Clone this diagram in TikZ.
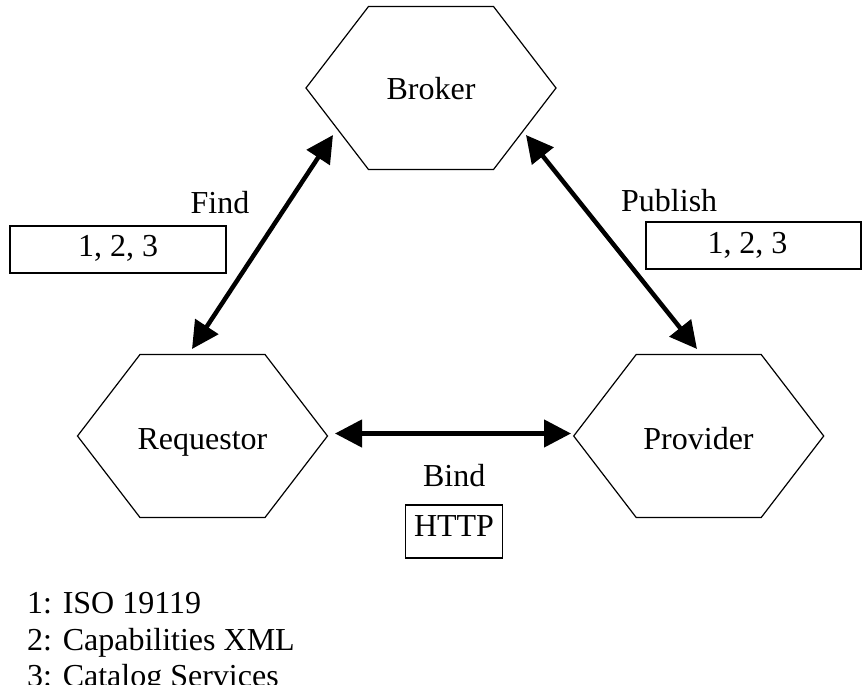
\documentclass[tikz,border=0pt]{standalone}
\usepackage{fontspec}
\setmainfont{Liberation Serif}
\usetikzlibrary{arrows.meta}

\tikzset{
  hexside/.style={draw=black, line width=1.2pt, line join=miter},
  pics/hexagon/.style={code={
    \draw[hexside] (-125,0) -- (-62.5,-81.5) -- (62.5,-81.5) -- (125,0)
                   -- (62.5,81.5) -- (-62.5,81.5) -- cycle;}},
  txt/.style={font=\fontsize{32}{36}\selectfont, inner sep=0pt},
  lbl/.style={txt, anchor=base},
  refbox/.style={txt, draw=black, line width=1.5pt},
  link/.style={line width=4.5pt,
    {Triangle[length=27pt,width=27pt]}-{Triangle[length=27pt,width=27pt]}}
}

\begin{document}
\begin{tikzpicture}[x=1pt, y=-1pt]
  \useasboundingbox (0,0) rectangle (867,698);
  \fill[white] (0,0) rectangle (867,698);

  % the three roles
  \coordinate (brokerc) at (431,88);
  \coordinate (reqc)    at (202.5,436);
  \coordinate (provc)   at (698.7,436);
  \pic at (brokerc) {hexagon};
  \pic at (reqc)    {hexagon};
  \pic at (provc)   {hexagon};
  \node[lbl] (broker) at (431,100)    {Broker};
  \node[lbl] (req)    at (202.5,449.3) {Requestor};
  \node[lbl] (prov)   at (698.5,449.3) {Provider};

  % arrow ends
  \coordinate (findtop) at (333,135);
  \coordinate (findbot) at (192,349);
  \coordinate (pubtop)  at (526,135);
  \coordinate (pubbot)  at (697,349);
  \coordinate (bindl)   at (335,433.5);
  \coordinate (bindr)   at (571,433.5);

  \draw[link] (findbot) -- (findtop);
  \draw[link] (pubtop) -- (pubbot);
  \draw[link] (bindl) -- (bindr);

  % operation labels and their standards
  \node[lbl] (find) at (220,213.3)   {Find};
  \node[lbl] (pub)  at (669.2,211.7) {Publish};
  \node[lbl] (bind) at (454.2,486.7) {Bind};

  \node[refbox, minimum width=216pt, minimum height=47pt,
        text height=22pt, text depth=7.6pt] (findstd) at (118,249.5) {1, 2, 3};
  \node[refbox, minimum width=215pt, minimum height=47pt,
        text height=22pt, text depth=6.4pt] (pubstd) at (753.5,245.5) {\hspace*{-12pt}1, 2, 3};
  \node[refbox, minimum width=96.6pt, minimum height=53pt,
        text height=22pt, text depth=13pt] (bindstd) at (454,531.5) {HTTP};

  % legend
  \begin{scope}
    \clip (0,0) rectangle (867,684);
    \node[txt, anchor=base west] (leg1) at (27,613.3) {1: ISO 19119};
    \node[txt, anchor=base west] (leg2) at (27,650)   {2: Capabilities XML};
    \node[txt, anchor=base west] (leg3) at (27,686.7) {3: Catalog Services};
  \end{scope}
\end{tikzpicture}
\end{document}
